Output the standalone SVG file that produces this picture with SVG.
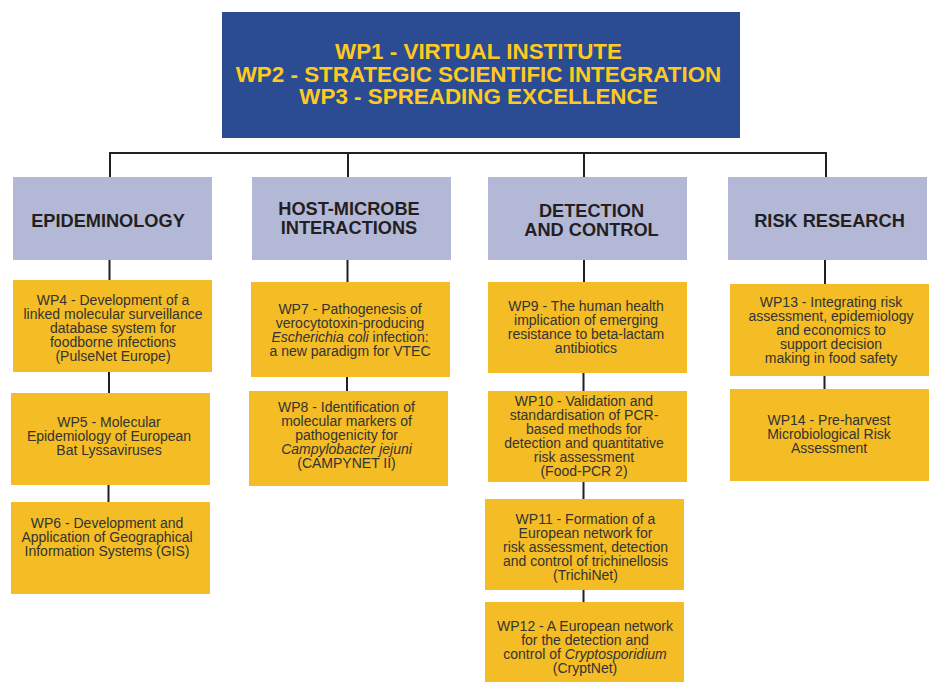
<svg xmlns="http://www.w3.org/2000/svg" width="933" height="682" viewBox="0 0 933 682">
<style>
.top{fill:#2B4C93}
.cat{fill:#B4B8D7}
.wp{fill:#F4BC25}
.tt{font-family:"Liberation Sans",Arial,sans-serif;font-weight:bold;font-size:22.4px;fill:#FFCA1F;text-anchor:middle}
.ct{font-family:"Liberation Sans",Arial,sans-serif;font-weight:bold;font-size:18.2px;fill:#231F20;text-anchor:middle}
.wt{font-family:"Liberation Sans",Arial,sans-serif;font-size:14px;fill:#333333;text-anchor:middle}
.i{font-style:italic}
.ln{stroke:#231F20;stroke-width:2;fill:none}
</style>
<rect width="933" height="682" fill="#ffffff"/>
<g id="connectors">
<path class="ln" d="M110,177 V153 H827 M348,153 V177 M584,153 V177 M826,153 V177"/>
<path class="ln" d="M109.5,260 V280 M109,372 V393 M108.5,485 V502"/>
<path class="ln" d="M347.5,260 V282 M347,377 V391"/>
<path class="ln" d="M584,260 V282 M583.5,373 V391 M583.5,482 V499 M583.5,590 V602"/>
<path class="ln" d="M825,260 V284 M824.5,376 V389"/>
</g>
<g id="wp1-3">
<rect class="top" x="222" y="12" width="518" height="126"/>
<text class="tt"><tspan x="478.5" y="59">WP1 - VIRTUAL INSTITUTE</tspan><tspan x="478.5" y="81.5">WP2 - STRATEGIC SCIENTIFIC INTEGRATION</tspan><tspan x="478.5" y="104">WP3 - SPREADING EXCELLENCE</tspan></text>
</g>
<g id="epidemiology">
<rect class="cat" x="13" y="177" width="199" height="83"/>
<text class="ct" x="108" y="227">EPIDEMINOLOGY</text>
</g>
<g id="host-microbe">
<rect class="cat" x="252" y="177" width="199" height="83"/>
<text class="ct"><tspan x="349" y="215">HOST-MICROBE</tspan><tspan x="349" y="233.5">INTERACTIONS</tspan></text>
</g>
<g id="detection">
<rect class="cat" x="488" y="177" width="199" height="83"/>
<text class="ct"><tspan x="591.5" y="216.5">DETECTION</tspan><tspan x="591.5" y="235.5">AND CONTROL</tspan></text>
</g>
<g id="risk">
<rect class="cat" x="728" y="177" width="199" height="83"/>
<text class="ct" x="829.5" y="227">RISK RESEARCH</text>
</g>
<g id="wp4">
<rect class="wp" x="13" y="280" width="199" height="92"/>
<text class="wt"><tspan x="113" y="305">WP4 - Development of a</tspan><tspan x="113" dy="14">linked molecular surveillance</tspan><tspan x="113" dy="14">database system for</tspan><tspan x="113" dy="14">foodborne infections</tspan><tspan x="113" dy="14">(PulseNet Europe)</tspan></text>
</g>
<g id="wp5">
<rect class="wp" x="11" y="393" width="199" height="92"/>
<text class="wt"><tspan x="109" y="427">WP5 - Molecular</tspan><tspan x="109" dy="14">Epidemiology of European</tspan><tspan x="109" dy="14">Bat Lyssaviruses</tspan></text>
</g>
<g id="wp6">
<rect class="wp" x="11" y="502" width="199" height="92"/>
<text class="wt"><tspan x="107" y="528">WP6 - Development and</tspan><tspan x="107" dy="14">Application of Geographical</tspan><tspan x="107" dy="14">Information Systems (GIS)</tspan></text>
</g>
<g id="wp7">
<rect class="wp" x="251" y="282" width="199" height="95"/>
<text class="wt"><tspan x="350" y="314">WP7 - Pathogenesis of</tspan><tspan x="350" dy="14">verocytotoxin-producing</tspan><tspan x="350" dy="14"><tspan class="i">Escherichia coli</tspan> infection:</tspan><tspan x="350" dy="14">a new paradigm for VTEC</tspan></text>
</g>
<g id="wp8">
<rect class="wp" x="249" y="391" width="199" height="95"/>
<text class="wt"><tspan x="346.5" y="412">WP8 - Identification of</tspan><tspan x="346.5" dy="14">molecular markers of</tspan><tspan x="346.5" dy="14">pathogenicity for</tspan><tspan x="346.5" dy="14" class="i">Campylobacter jejuni</tspan><tspan x="346.5" dy="14">(CAMPYNET II)</tspan></text>
</g>
<g id="wp9">
<rect class="wp" x="488" y="282" width="199" height="91"/>
<text class="wt"><tspan x="586" y="311">WP9 - The human health</tspan><tspan x="586" dy="14">implication of emerging</tspan><tspan x="586" dy="14">resistance to beta-lactam</tspan><tspan x="586" dy="14">antibiotics</tspan></text>
</g>
<g id="wp10">
<rect class="wp" x="488" y="391" width="199" height="91"/>
<text class="wt"><tspan x="584" y="406">WP10 - Validation and</tspan><tspan x="584" dy="14">standardisation of PCR-</tspan><tspan x="584" dy="14">based methods for</tspan><tspan x="584" dy="14">detection and quantitative</tspan><tspan x="584" dy="14">risk assessment</tspan><tspan x="584" dy="14">(Food-PCR 2)</tspan></text>
</g>
<g id="wp11">
<rect class="wp" x="485" y="499" width="199" height="91"/>
<text class="wt"><tspan x="585.5" y="524">WP11 - Formation of a</tspan><tspan x="585.5" dy="14">European network for</tspan><tspan x="585.5" dy="14">risk assessment, detection</tspan><tspan x="585.5" dy="14">and control of trichinellosis</tspan><tspan x="585.5" dy="14">(TrichiNet)</tspan></text>
</g>
<g id="wp12">
<rect class="wp" x="485" y="602" width="199" height="80"/>
<text class="wt"><tspan x="585" y="631">WP12 - A European network</tspan><tspan x="585" dy="14">for the detection and</tspan><tspan x="585" dy="14">control of <tspan class="i">Cryptosporidium</tspan></tspan><tspan x="585" dy="14">(CryptNet)</tspan></text>
</g>
<g id="wp13">
<rect class="wp" x="730" y="284" width="199" height="92"/>
<text class="wt"><tspan x="831" y="307">WP13 - Integrating risk</tspan><tspan x="831" dy="14">assessment, epidemiology</tspan><tspan x="831" dy="14">and economics to</tspan><tspan x="831" dy="14">support decision</tspan><tspan x="831" dy="14">making in food safety</tspan></text>
</g>
<g id="wp14">
<rect class="wp" x="730" y="389" width="199" height="92"/>
<text class="wt"><tspan x="829" y="424.5">WP14 - Pre-harvest</tspan><tspan x="829" dy="14">Microbiological Risk</tspan><tspan x="829" dy="14">Assessment</tspan></text>
</g>
</svg>
